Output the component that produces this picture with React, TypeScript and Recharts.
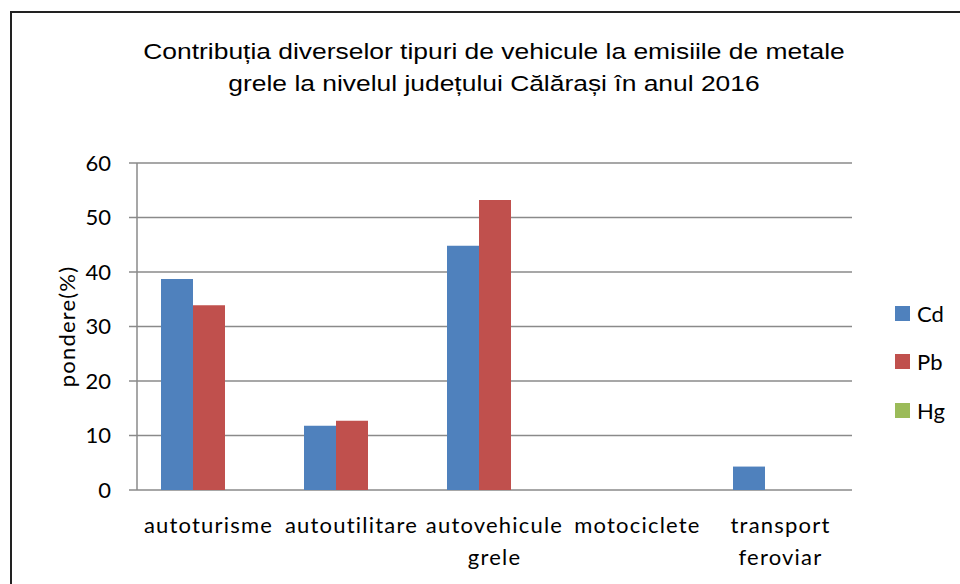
import React from 'react';
import { BarChart, Bar, XAxis, YAxis, CartesianGrid } from 'recharts';

const categories = ['autoturisme', 'autoutilitare', 'autovehicule grele', 'motociclete', 'transport feroviar'];
const cdValues = [38.7, 11.8, 44.8, 0, 4.3];
const pbValues = [33.9, 12.7, 53.2, 0, 0];
const hgValues = [0, 0, 0, 0, 0];
const yTicks = [0, 10, 20, 30, 40, 50, 60];

const series = [
    { key: 'Cd', color: '#4F81BD' },
    { key: 'Pb', color: '#C0504D' },
    { key: 'Hg', color: '#9BBB59' },
];

const data = categories.map((name, i) => ({
    name,
    Cd: cdValues[i],
    Pb: pbValues[i],
    Hg: hgValues[i],
}));

const LABEL_FONT = 'Lato, "Open Sans", sans-serif';
const TITLE_FONT = '"Liberation Sans", Arial, sans-serif';

// category labels with a space break onto two lines, like the original
const CategoryTick = (props: any) => {
    const { x, y, payload } = props;
    const lines = String(payload.value).split(' ');
    return (
        <text
            x={x}
            y={y + 35}
            textAnchor="middle"
            fill="#000"
            style={{ fontFamily: LABEL_FONT, fontSize: 22, letterSpacing: 1.2 }}
        >
            {lines.map((line, i) => (
                <tspan key={i} x={x} dy={i === 0 ? 0 : 32}>
                    {line}
                </tspan>
            ))}
        </text>
    );
};

const YTitle = (props: any) => {
    const { viewBox } = props;
    const cy = viewBox.y + viewBox.height / 2;
    return (
        <text
            x={66}
            y={cy}
            transform={`rotate(-90 66 ${cy})`}
            textAnchor="middle"
            dominantBaseline="central"
            style={{ fontFamily: LABEL_FONT, fontSize: 22, letterSpacing: 1.2 }}
            fill="#000"
        >
            pondere(%)
        </text>
    );
};

export default function App() {
    return (
        <div style={{ position: 'absolute', left: 0, top: 0, width: 960, height: 584, overflow: 'hidden', background: '#fff' }}>
            <div
                style={{
                    position: 'absolute',
                    left: 10,
                    top: 11,
                    width: 960,
                    height: 600,
                    borderTop: '2px solid #222',
                    borderLeft: '2px solid #222',
                }}
            />
            <div
                style={{
                    position: 'absolute',
                    left: 0,
                    width: 988,
                    top: 36,
                    textAlign: 'center',
                    fontFamily: TITLE_FONT,
                    fontSize: 22,
                    lineHeight: '32px',
                    color: '#000',
                    transform: 'scaleX(1.2)',
                    transformOrigin: '494px 0',
                }}
            >
                Contribuția diverselor tipuri de vehicule la emisiile de metale
                <br />
                grele la nivelul județului Călărași în anul 2016
            </div>
            <div style={{ position: 'absolute', left: 0, top: 0 }}>
                <BarChart
                    width={960}
                    height={584}
                    data={data}
                    margin={{ top: 163, right: 108, bottom: 0, left: 0 }}
                    barCategoryGap={24}
                    barGap={0}
                >
                    <CartesianGrid vertical={false} stroke="#8a8a8a" strokeWidth={1.5} />
                    <XAxis
                        dataKey="name"
                        height={94}
                        axisLine={false}
                        tickLine={false}
                        interval={0}
                        tick={<CategoryTick />}
                    />
                    <YAxis
                        width={137}
                        domain={[0, 60]}
                        ticks={yTicks}
                        interval={0}
                        stroke="#8a8a8a"
                        strokeWidth={1.5}
                        tickSize={8}
                        tickMargin={18}
                        tick={{ fill: '#000', fontFamily: LABEL_FONT, fontSize: 22 }}
                        label={<YTitle />}
                    />
                    {series.map((s) => (
                        <Bar key={s.key} dataKey={s.key} fill={s.color} isAnimationActive={false} />
                    ))}
                </BarChart>
            </div>
            <div style={{ position: 'absolute', left: 895, top: 289 }}>
                {series.map((s) => (
                    <div
                        key={s.key}
                        style={{ display: 'flex', alignItems: 'center', height: 48.5, fontFamily: LABEL_FONT, fontSize: 22, color: '#000' }}
                    >
                        <span style={{ display: 'inline-block', width: 15, height: 15, background: s.color, marginRight: 7 }} />
                        {s.key}
                    </div>
                ))}
            </div>
        </div>
    );
}
